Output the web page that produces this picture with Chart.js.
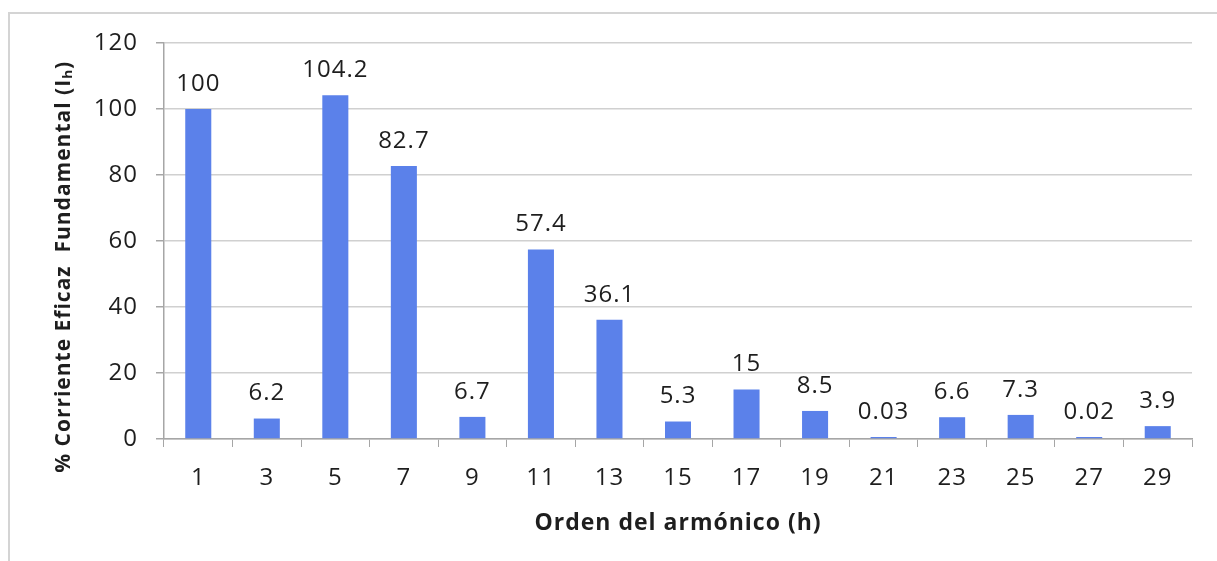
<!DOCTYPE html>
<html>
<head>
<meta charset="utf-8">
<script src="https://cdn.jsdelivr.net/npm/chart.js@4.4.1/dist/chart.umd.min.js"></script>
<style>
  html, body { margin: 0; padding: 0; background: #ffffff; }
  #frame { position: absolute; left: 8px; top: 12px; width: 1230px; height: 580px;
           border: 2px solid #d4d4d4; box-sizing: border-box; }
  #wrap { position: absolute; left: 0; top: 0; width: 1217px; height: 561px; }
</style>
</head>
<body>
<div id="frame"></div>
<div id="wrap"><canvas id="c"></canvas></div>
<script>
// ---- Data ----
const categories = ['1', '3', '5', '7', '9', '11', '13', '15', '17', '19', '21', '23', '25', '27', '29'];
const values = [100, 6.2, 104.2, 82.7, 6.7, 57.4, 36.1, 5.3, 15, 8.5, 0.03, 6.6, 7.3, 0.02, 3.9];
const valueLabels = ['100', '6.2', '104.2', '82.7', '6.7', '57.4', '36.1', '5.3', '15', '8.5', '0.03', '6.6', '7.3', '0.02', '3.9'];
const yMin = 0, yMax = 120, yStep = 20;
const xTitle = 'Orden del armónico (h)';
const yTitle = '% Corriente Eficaz  Fundamental (Iₕ)';

const FONT = "'Open Sans', 'DejaVu Sans', sans-serif";
const TEXT = '#1e1e1e';

const spacingPlugin = {
  id: 'spacing',
  beforeLayout(chart) { chart.ctx.letterSpacing = '1px'; },
  beforeDraw(chart) { chart.ctx.letterSpacing = '1px'; }
};

const valueLabelPlugin = {
  id: 'valueLabels',
  afterDatasetsDraw(chart) {
    const ctx = chart.ctx;
    const meta = chart.getDatasetMeta(0);
    ctx.save();
    ctx.letterSpacing = '1px';
    ctx.font = "24px " + FONT;
    ctx.fillStyle = TEXT;
    ctx.textAlign = 'center';
    ctx.textBaseline = 'middle';
    meta.data.forEach((bar, i) => {
      ctx.fillText(valueLabels[i], bar.x, bar.y - 25);
    });
    ctx.restore();
  }
};

new Chart(document.getElementById('c'), {
  type: 'bar',
  data: {
    labels: categories,
    datasets: [{
      data: values,
      backgroundColor: '#5b81ea',
      borderWidth: 0,
      minBarLength: 2,
      categoryPercentage: 1.0,
      barPercentage: 0.38
    }]
  },
  options: {
    responsive: true,
    maintainAspectRatio: false,
    animation: false,
    layout: { padding: { left: 0, top: 43, right: 25, bottom: 0 } },
    plugins: { legend: { display: false }, tooltip: { enabled: false } },
    scales: {
      x: {
        afterFit(s) { s.height = 122; },
        grid: { display: true, drawOnChartArea: false, drawTicks: true, tickLength: 8,
                color: '#a6a6a6', tickColor: '#a6a6a6', offset: true },
        border: { color: '#a6a6a6', width: 1.5 },
        ticks: { font: { family: FONT, size: 24 }, color: TEXT, padding: 17 },
        title: { display: true, text: xTitle, color: TEXT,
                 font: { family: FONT, size: 23, weight: 'bold' }, padding: { top: 0, bottom: 24 } }
      },
      y: {
        min: yMin, max: yMax,
        afterFit(s) { s.width = 164; },
        grid: { color: '#d0d0d0', lineWidth: 1.5, drawTicks: true, tickLength: 8, tickColor: '#a6a6a6' },
        border: { color: '#a6a6a6', width: 1.5 },
        ticks: { stepSize: yStep, font: { family: FONT, size: 24 }, color: TEXT, padding: 18 },
        title: { display: true, text: yTitle + '\u00a0\u00a0\u00a0\u00a0\u00a0\u00a0\u00a0\u00a0', color: TEXT,
                 font: { family: FONT, size: 21, weight: 'bold' }, padding: { top: 51, bottom: 0 } }
      }
    }
  },
  plugins: [spacingPlugin, valueLabelPlugin]
});
</script>
</body>
</html>
